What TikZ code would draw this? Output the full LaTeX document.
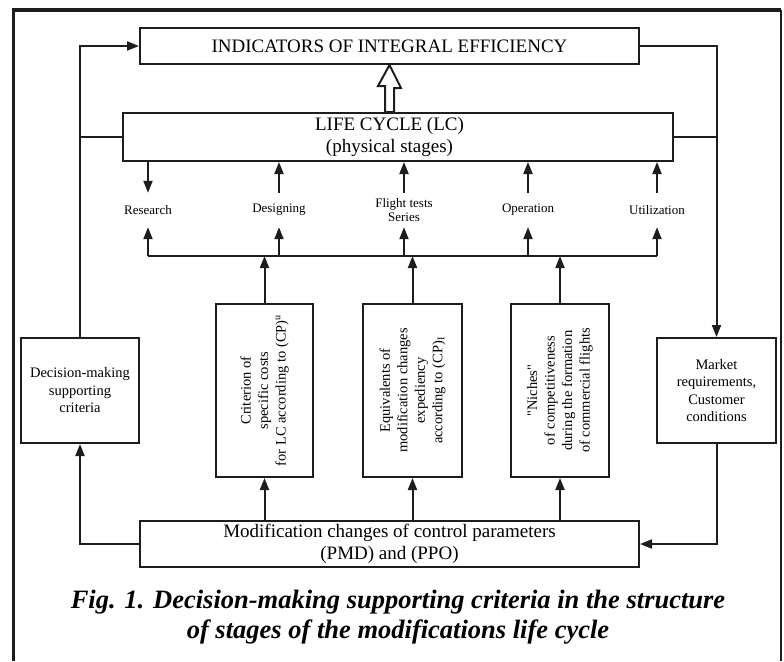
\documentclass[tikz,border=0pt]{standalone}
\usepackage{fontspec}
\setmainfont{Liberation Serif}
\usetikzlibrary{arrows.meta,calc}
\definecolor{LineClr}{rgb}{0.12,0.11,0.11}

\begin{document}
\begin{tikzpicture}[x=1pt,y=-1pt,
  box/.style={draw=LineClr,line width=2pt,inner sep=0pt},
  big/.style={font=\fontsize{19}{22}\selectfont,align=center},
  mid/.style={font=\fontsize{14.5}{17.5}\selectfont,align=center},
  stage/.style={font=\fontsize{13}{14.5}\selectfont,align=center,minimum height=34pt,inner sep=0pt},
  link/.style={draw=LineClr,line width=2pt},
  arr/.style={link,-{Triangle[length=12pt,width=9pt]}}]

\useasboundingbox (0,0) rectangle (784,661);
\draw[LineClr,line width=3.2pt] (13.3,661) -- (13.3,10) -- (781,10);
\draw[LineClr,line width=2.5pt] (781,10) -- (781,661);

\node[box,big,minimum width=499pt,minimum height=36pt] (ind) at (389.5,46) {INDICATORS OF INTEGRAL EFFICIENCY};
\node[box,minimum width=550pt,minimum height=48pt] (lc) at (398,137) {};
\node[big] (lctxt) at (ind.center |- lc.center) {LIFE CYCLE (LC)\\(physical stages)};

\node[stage] (res) at (148,210) {Research};
\node[stage] (des) at (279,210) {Designing};
\node[stage] (flt) at (404,210) {Flight tests\\Series};
\node[stage] (opr) at (528,210) {Operation};
\node[stage] (utl) at (657,210) {Utilization};

\coordinate (busL) at (148,256);
\coordinate (busR) at (657,256);

\node[box,minimum width=97pt,minimum height=173pt] (crt) at (264.5,390.5) {};
\node[mid,rotate=90] (crttxt) at (crt) {Criterion of\\specific costs\\for LC according to (CP)\textsuperscript{u}};
\node[box,minimum width=99pt,minimum height=173pt] (eqv) at (412.5,390.5) {};
\node[mid,rotate=90] (eqvtxt) at (eqv) {Equivalents of\\modification changes\\expediency\\according to (CP)\textsubscript{I}};
\node[box,minimum width=98pt,minimum height=173pt] (nch) at (560,390.5) {};
\node[mid,rotate=90] (nchtxt) at (nch) {\textquotedbl Niches\textquotedbl\\of competitiveness\\during the formation\\of commercial flights};

\node[box,mid,minimum width=118pt,minimum height=105pt] (dec) at (80,390.5) {Decision-making\\supporting\\criteria};
\node[box,mid,minimum width=119pt,minimum height=105pt] (mkt) at (716.5,390.5) {Market\\requirements,\\Customer\\conditions};

\node[box,big,minimum width=499pt,minimum height=46pt] (pmd) at (389.5,544) {Modification changes of control parameters\\(PMD) and (PPO)};

\node[font=\fontsize{26.5}{30}\selectfont\bfseries\itshape,align=center] (cap) at (398,617) {Fig. 1. Decision-making supporting criteria in the structure\\of stages of the modifications life cycle};

\draw[LineClr,line width=2pt,fill=white] (ind.south) -- ++(11.5,23) -- ++(-7,0)
  -- ($(ind.south |- lc.north)+(4.5,0)$) -- ($(ind.south |- lc.north)+(-4.5,0)$)
  -- ++(0,-26) -- ++(-7,0) -- cycle;

\draw[arr] (lc.south -| res) -- (res.north);
\foreach \s in {des,flt,opr,utl} \draw[arr] (\s.north) -- (lc.south -| \s);
\draw[link] (busL) -- (busR);
\foreach \s in {res,des,flt,opr,utl} \draw[arr] (busL -| \s) -- (\s.south);
\foreach \b in {crt,eqv,nch} {
  \draw[arr] (\b.north) -- (busL -| \b);
  \draw[arr] (pmd.north -| \b) -- (\b.south);
}

\draw[arr] (dec.north) |- (ind.west);
\draw[link] (lc.west) -- (lc.west -| dec.north);
\draw[arr] (ind.east) -| (mkt.north);
\draw[link] (lc.east) -- (lc.east -| mkt.north);
\draw[arr] (mkt.south) |- (pmd.east);
\draw[arr] (pmd.west) -| (dec.south);

\end{tikzpicture}
\end{document}
